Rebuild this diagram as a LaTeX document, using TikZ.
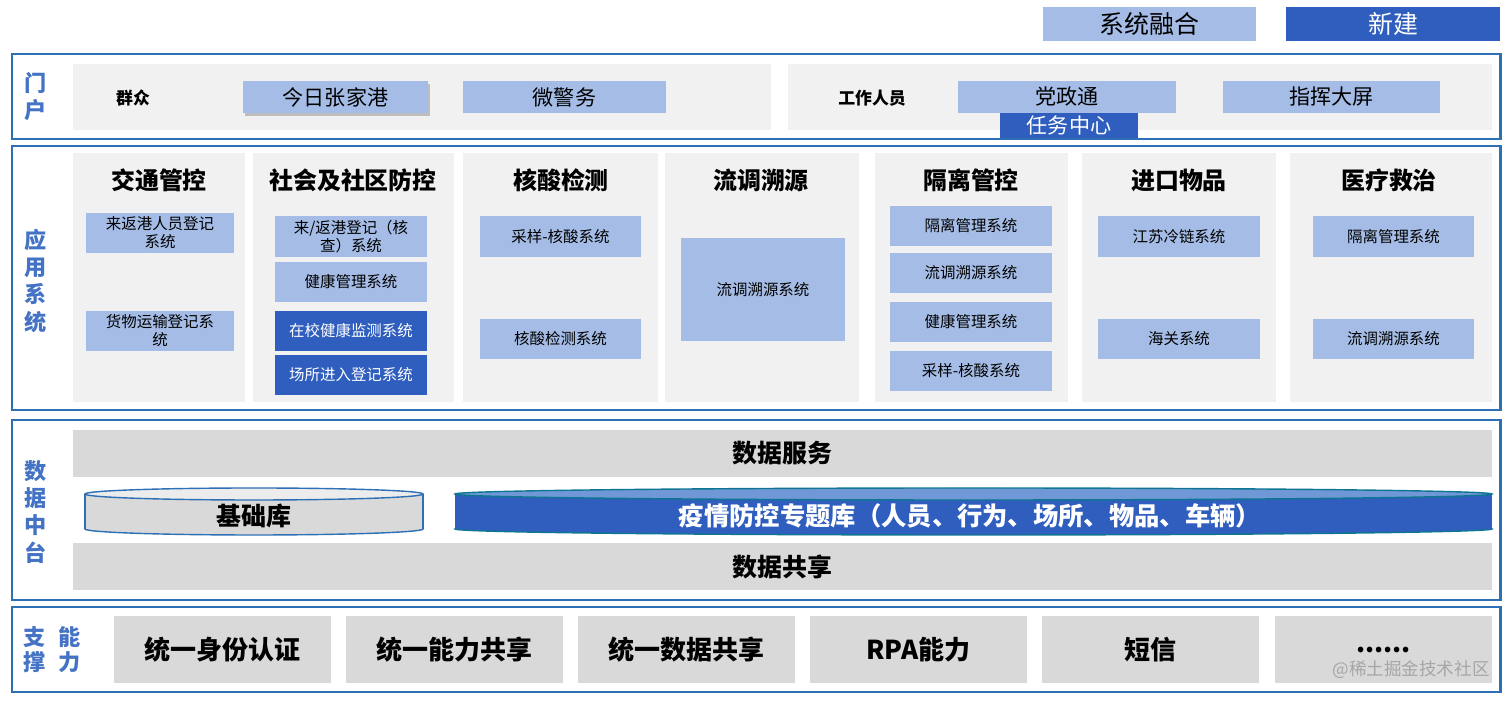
\documentclass[tikz,border=0pt]{standalone}
\usepackage{fontspec}
\setmainfont{Noto Sans CJK SC}
\usetikzlibrary{shadows}
\definecolor{frameblue}{RGB}{46,112,182}
\definecolor{labelblue}{RGB}{68,114,196}
\definecolor{sysblue}{RGB}{165,189,230}
\definecolor{newblue}{RGB}{47,94,190}
\definecolor{topblue}{RGB}{112,152,214}
\definecolor{panelgray}{RGB}{241,241,241}
\definecolor{bargray}{RGB}{217,217,217}
\newcommand{\fsz}[2]{\fontsize{#1}{#2}\selectfont}

\begin{document}
\begin{tikzpicture}[x=0.01cm, y=-0.01cm, every node/.style={inner sep=0pt},
    layer/.style={draw=frameblue, line width=0.6pt, minimum width=14.88cm},
    layertitle/.style={text=labelblue, align=center, font=\bfseries\fsz{6.3}{7.7}},
    panel/.style={fill=panelgray},
    legendbox/.style={minimum width=2.13cm, minimum height=0.34cm, font=\fsz{7.1}{8}},
    portbox/.style={fill=sysblue, minimum height=0.32cm, font=\fsz{6}{7}},
    who/.style={font=\bfseries\fsz{4.8}{6}},
    coltitle/.style={font=\bfseries\fsz{6.8}{8}},
    sysbox/.style={fill=sysblue, minimum width=#1, minimum height=0.40cm,
                   align=center, font=\fsz{4.4}{5.1}},
    sysbox/.default=1.62cm,
    newbox/.style={sysbox=#1, fill=newblue, text=white},
    newbox/.default=1.52cm,
    bar/.style={fill=bargray, minimum width=14.19cm, minimum height=0.47cm,
                font=\bfseries\fsz{7.1}{8}},
    ability/.style={fill=bargray, minimum width=2.17cm, minimum height=0.67cm,
                    font=\bfseries\fsz{7.4}{8}}]
\useasboundingbox (0,0) rectangle (1512,701);

% legend
\node[legendbox, fill=sysblue] (merge) at (1149.5,24) {系统融合};
\node[legendbox, fill=newblue, text=white, minimum width=2.14cm] (newbuild) at (1393,24) {新建};

% portal
\node[layer, minimum height=0.85cm] (portal) at (756,96.5) {};
\node[layertitle] (portallbl) at (36,97) {门\\户};
\node[panel, minimum width=6.98cm, minimum height=0.66cm] (pubpanel) at (422,97) {};
\node[panel, minimum width=7.04cm, minimum height=0.66cm] (staffpanel) at (1140,97) {};
\node[who] (public) at (133,98) {群众};
\node[portbox, minimum width=1.85cm,
      drop shadow={shadow xshift=0.6pt, shadow yshift=-0.9pt, fill=black!45}] (jrzjg) at (335.5,97) {今日张家港};
\node[portbox, minimum width=2.03cm] (wjw) at (564.5,97) {微警务};
\node[who] (staff) at (872,98) {工作人员};
\node[portbox, minimum width=2.18cm] (dzt) at (1067,97) {党政通};
\node[portbox, minimum width=1.38cm, minimum height=0.25cm, fill=newblue, text=white] (rwzx) at (1069,125.5) {任务中心};
\node[portbox, minimum width=2.17cm] (zhdp) at (1331.5,97) {指挥大屏};

% application systems
\node[layer, minimum height=2.64cm] (apps) at (756,278) {};
\node[layertitle] (appslbl) at (36,281) {应\\用\\系\\统};
\node[panel, minimum width=1.72cm, minimum height=2.49cm] (col1) at (159,277.5) {};
\node[panel, minimum width=2.01cm, minimum height=2.49cm] (col2) at (353.5,277.5) {};
\node[panel, minimum width=1.95cm, minimum height=2.49cm] (col3) at (560.5,277.5) {};
\node[panel, minimum width=1.94cm, minimum height=2.49cm] (col4) at (762,277.5) {};
\node[panel, minimum width=1.93cm, minimum height=2.49cm] (col5) at (971.5,277.5) {};
\node[panel, minimum width=1.94cm, minimum height=2.49cm] (col6) at (1179,277.5) {};
\node[panel, minimum width=2.02cm, minimum height=2.49cm] (col7) at (1391,277.5) {};

\node[coltitle] (t1) at (159,180) {交通管控};
\node[coltitle] (t2) at (353,180) {社会及社区防控};
\node[coltitle] (t3) at (561,180) {核酸检测};
\node[coltitle] (t4) at (761,180) {流调溯源};
\node[coltitle] (t5) at (971,180) {隔离管控};
\node[coltitle] (t6) at (1179,180) {进口物品};
\node[coltitle] (t7) at (1389,180) {医疗救治};

\node[sysbox=1.48cm] (s11) at (160,233) {来返港人员登记\\系统};
\node[sysbox=1.48cm] (s12) at (160,331) {货物运输登记系\\统};

\node[sysbox=1.52cm, minimum height=0.41cm] (s21) at (351,236.5) {来/返港登记（核\\查）系统};
\node[sysbox=1.52cm] (s22) at (351,282) {健康管理系统};
\node[newbox] (s23) at (351,331) {在校健康监测系统};
\node[newbox] (s24) at (351,375) {场所进入登记系统};

\node[sysbox=1.61cm] (s31) at (560.5,236.5) {采样-核酸系统};
\node[sysbox=1.61cm] (s32) at (560.5,339) {核酸检测系统};

\node[sysbox=1.64cm, minimum height=1.03cm] (s41) at (763,289.5) {流调溯源系统};

\node[sysbox] (s51) at (971,226) {隔离管理系统};
\node[sysbox] (s52) at (971,273) {流调溯源系统};
\node[sysbox] (s53) at (971,322) {健康管理系统};
\node[sysbox] (s54) at (971,371) {采样-核酸系统};

\node[sysbox] (s61) at (1179,236.5) {江苏冷链系统};
\node[sysbox] (s62) at (1179,339) {海关系统};

\node[sysbox=1.61cm] (s71) at (1393.5,236.5) {隔离管理系统};
\node[sysbox=1.61cm] (s72) at (1393.5,339) {流调溯源系统};

% data middle platform
\node[layer, minimum height=1.80cm] (data) at (756,510) {};
\node[layertitle] (datalbl) at (36,512) {数\\据\\中\\台};
\node[bar] (service) at (782.5,453.5) {数据服务};
\node[bar] (share) at (782.5,566.5) {数据共享};

\draw[frameblue, fill=bargray] (254,529) ellipse [x radius=169, y radius=6];
\fill[bargray] (85,494) rectangle (423,529);
\draw[frameblue] (85,494) -- (85,529) (423,494) -- (423,529);
\draw[frameblue, fill=panelgray!80!bargray] (254,494) ellipse [x radius=169, y radius=6];
\node[font=\bfseries\fsz{7.1}{8}] (base) at (254,516) {基础库};

\draw[teal!70!newblue, fill=newblue] (973.5,529) ellipse [x radius=518.5, y radius=6];
\fill[newblue] (455,494) rectangle (1492,529);
\draw[teal!70!newblue, fill=topblue] (973.5,494) ellipse [x radius=518.5, y radius=6];
\node[font=\bfseries\fsz{7.2}{8}, text=white] (topic) at (970,516) {疫情防控专题库（人员、行为、场所、物品、车辆）};

% ability support
\node[layer, minimum height=0.85cm] (support) at (756,649.5) {};
\node[layertitle, font=\bfseries\fsz{6.3}{7.1}] (supportlbl1) at (35,650) {支\\撑};
\node[layertitle, font=\bfseries\fsz{6.3}{7.1}] (supportlbl2) at (70,650) {能\\力};
\node[ability] (a1) at (222.5,649.5) {统一身份认证};
\node[ability] (a2) at (454.5,649.5) {统一能力共享};
\node[ability] (a3) at (686.5,649.5) {统一数据共享};
\node[ability] (a4) at (918.5,649.5) {RPA能力};
\node[ability] (a5) at (1150.5,649.5) {短信};
\node[ability] (a6) at (1383.5,649.5) {......};
\node[text=gray!70, font=\fsz{5}{6}] (mark) at (1411,670) {@稀土掘金技术社区};
\end{tikzpicture}
\end{document}
